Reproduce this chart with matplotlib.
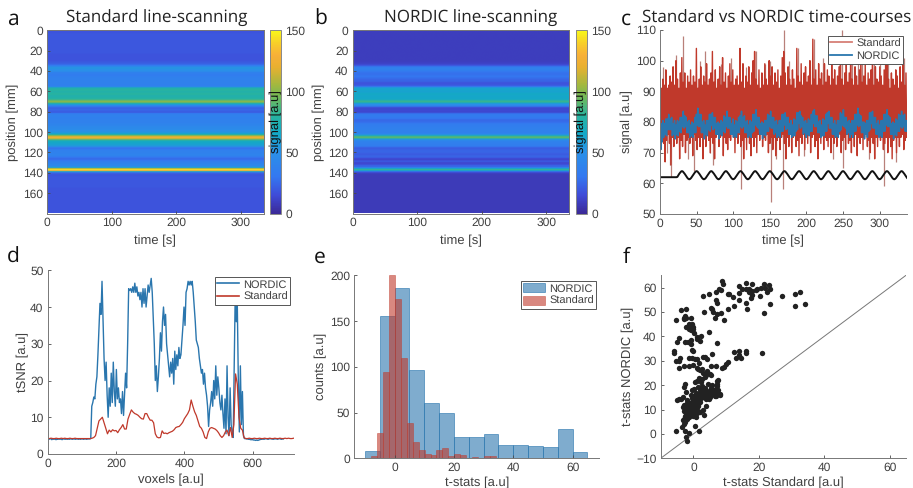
import numpy as np
import matplotlib
matplotlib.use("Agg")
import matplotlib.pyplot as plt
from matplotlib.colors import LinearSegmentedColormap

W, H = 913, 488

# Profiles of the two heatmaps, one value per mm
standard_profile = [
    18, 18, 18, 18, 19, 19, 19, 19, 19, 19,
    19, 19, 19, 19, 19, 19, 19, 19, 19, 19,
    19, 19, 19, 19, 18, 18, 18, 18, 18, 18,
    18, 19, 20, 22, 25, 32, 42, 52, 53, 50,
    50, 46, 38, 36, 35, 35, 36, 37, 38, 38,
    38, 38, 38, 38, 37, 38, 45, 72, 78, 80,
    78, 76, 78, 80, 78, 76, 76, 78, 80, 88,
    100, 100, 80, 62, 48, 36, 26, 22, 25, 24,
    22, 20, 32, 36, 38, 38, 37, 37, 38, 38,
    38, 38, 40, 40, 42, 44, 45, 46, 48, 50,
    52, 56, 64, 82, 105, 122, 124, 108, 84, 70,
    66, 64, 62, 60, 55, 42, 28, 30, 38, 38,
    38, 38, 40, 40, 36, 30, 26, 26, 30, 36,
    38, 40, 42, 44, 48, 62, 112, 145, 128, 62,
    28, 20, 18, 18, 19, 19, 19, 19, 19, 19,
    19, 19, 19, 19, 19, 18, 18, 18, 18, 18,
    18, 18, 18, 18, 18, 18, 18, 18, 18, 18,
    18, 18, 18, 18, 18, 18, 18, 18, 18, 18,
]
nordic_profile = [
    9, 9, 9, 9, 9, 9, 9, 9, 9, 9,
    9, 9, 9, 9, 9, 9, 9, 9, 9, 9,
    9, 9, 9, 9, 9, 9, 9, 9, 9, 9,
    9, 9, 10, 11, 13, 18, 28, 36, 38, 38,
    36, 32, 29, 28, 28, 29, 30, 28, 26, 24,
    24, 22, 18, 18, 19, 22, 35, 60, 62, 64,
    62, 62, 64, 66, 66, 64, 64, 66, 64, 72,
    84, 82, 62, 50, 45, 38, 18, 13, 13, 14,
    13, 14, 26, 32, 33, 33, 32, 30, 26, 25,
    26, 28, 32, 34, 35, 36, 36, 37, 38, 38,
    38, 38, 42, 54, 74, 90, 90, 62, 46, 40,
    38, 36, 36, 35, 34, 26, 20, 22, 24, 24,
    24, 22, 20, 22, 24, 22, 15, 12, 16, 20,
    14, 13, 16, 24, 24, 38, 64, 84, 62, 26,
    14, 9, 8, 8, 8, 8, 8, 8, 8, 8,
    8, 8, 8, 8, 8, 8, 8, 8, 8, 8,
    8, 8, 8, 8, 8, 8, 8, 8, 8, 8,
    8, 8, 8, 8, 8, 8, 8, 8, 8, 8,
]

# Time courses, upper and lower swing every 2 s
standard_hi = [
    96, 91, 94, 92, 97, 91, 92, 95, 93, 98,
    92, 100, 94, 91, 96, 101, 93, 96, 91, 95,
    93, 97, 92, 95, 93, 104, 91, 94, 98, 92,
    95, 93, 99, 92, 94, 96, 103, 93, 97, 91,
    94, 98, 92, 101, 93, 96, 91, 95, 99, 93,
    97, 92, 94, 95, 92, 104, 93, 99, 91, 95,
    93, 98, 92, 96, 100, 103, 94, 92, 97, 91,
    96, 92, 99, 94, 92, 100, 95, 98, 92, 96,
    93, 97, 91, 95, 101, 103, 96, 92, 98, 94,
    92, 97, 94, 91, 104, 95, 93, 99, 92, 96,
    98, 93, 95, 100, 92, 107, 94, 97, 92, 99,
    94, 96, 92, 99, 93, 97, 95, 92, 100, 94,
    97, 92, 95, 98, 100, 94, 92, 96, 99, 93,
    96, 103, 94, 92, 98, 95, 92, 97, 103, 93,
    95, 99, 92, 96, 94, 97, 104, 92, 98, 94,
    93, 98, 95, 92, 97, 99, 102, 94, 91, 96,
    94, 92, 97, 95, 91, 98, 93, 101, 92, 96,
]
standard_lo = [
    71, 75, 73, 67, 74, 76, 73, 66, 75, 72,
    76, 73, 75, 68, 74, 72, 76, 70, 74, 75,
    73, 75, 69, 76, 74, 71, 75, 72, 75, 68,
    75, 72, 76, 74, 70, 75, 73, 68, 75, 76,
    72, 75, 76, 69, 75, 73, 71, 75, 74, 76,
    75, 70, 75, 73, 76, 72, 74, 68, 75, 71,
    76, 73, 69, 75, 72, 75, 70, 76, 74, 76,
    72, 75, 74, 76, 70, 73, 75, 71, 75, 69,
    74, 75, 71, 75, 76, 73, 68, 75, 72, 76,
    70, 75, 76, 72, 74, 69, 75, 73, 76, 71,
    75, 73, 76, 70, 75, 76, 72, 74, 68, 75,
    73, 76, 71, 75, 74, 72, 75, 70, 75, 73,
    76, 72, 75, 76, 70, 74, 75, 71, 76, 73,
    74, 70, 75, 72, 76, 69, 75, 73, 75, 71,
    75, 76, 72, 74, 70, 75, 73, 68, 75, 72,
    76, 74, 75, 71, 73, 75, 70, 75, 72, 68,
    74, 75, 70, 75, 72, 75, 76, 71, 74, 75,
]
spike_times = [4, 9, 13, 15, 22, 31, 38, 46, 55, 62, 68, 72, 84, 97, 111, 118, 131, 143, 150, 151, 158,
               168, 169, 176, 188, 197, 210, 222, 236, 249, 250, 262, 270, 276, 285, 293, 300, 306, 311,
               322, 333]
spike_tips = [98, 70, 66, 62, 102, 108, 68, 64, 100, 103, 70, 66, 99, 101, 58, 98, 103, 99, 100, 54, 68,
              58, 110, 100, 104, 69, 107, 101, 68, 110, 65, 103, 100, 103, 68, 106, 100, 59, 102, 67, 101]

nordic_hi = [
    81, 79.5, 80.5, 79.5, 81, 81, 82.5, 81, 81.5, 79.5,
    80.5, 79, 80.5, 80, 81.5, 81.5, 83.5, 82, 81.5, 80,
    80.5, 79, 80, 79.5, 81.5, 82.5, 84.5, 82.5, 82.5, 80,
    80.5, 79, 80.5, 80.5, 82.5, 82.5, 83, 81.5, 81.5, 79.5,
    80, 79.5, 80.5, 80, 82, 81.5, 83.5, 81.5, 81.5, 79.5,
    81, 79, 80.5, 80, 81.5, 82, 83.5, 81.5, 82, 80,
    80.5, 79, 80.5, 80, 82.5, 82.5, 84, 81.5, 81.5, 79.5,
    80, 79.5, 80.5, 80.5, 82.5, 82, 83.5, 81.5, 81.5, 80,
    80.5, 79, 80.5, 80.5, 82.5, 82.5, 83, 81.5, 81.5, 79.5,
    80.5, 79, 81, 80.5, 83, 83, 83.5, 82, 81.5, 80,
    80.5, 79.5, 81, 80.5, 82.5, 83.5, 84, 82, 82, 80,
    80.5, 79, 81, 80.5, 82.5, 83, 83.5, 81.5, 81.5, 79.5,
    80.5, 79, 80.5, 80.5, 83, 82.5, 84, 81.5, 81.5, 80,
    80.5, 79.5, 80.5, 80.5, 82.5, 82.5, 84.5, 82.5, 82, 80,
    80, 79.5, 80.5, 80.5, 83, 83, 83.5, 81.5, 81.5, 79.5,
    80.5, 79, 80.5, 80.5, 82.5, 82.5, 84, 82, 81.5, 79.5,
    80, 79.5, 81, 80.5, 82.5, 82, 83.5, 82, 82.5, 80.5,
]
nordic_lo = [
    71, 73.5, 75, 76, 75.5, 77.5, 77.5, 77.5, 75.5, 76,
    74.5, 76, 75.5, 77, 76.5, 78.5, 78, 78.5, 76.5, 76.5,
    75, 75.5, 75, 76.5, 76.5, 79, 78.5, 78.5, 76.5, 76.5,
    74.5, 76, 75.5, 77.5, 77, 79, 77.5, 78, 76, 76,
    74.5, 76, 75.5, 77, 76.5, 78.5, 78, 78, 76, 76,
    75, 75.5, 75, 76.5, 76.5, 78.5, 78, 78.5, 76.5, 76.5,
    75, 75.5, 75, 76.5, 77, 79, 78.5, 78, 76, 76,
    74.5, 76, 75.5, 77, 77, 78.5, 78, 78, 76, 76.5,
    75, 75.5, 75, 77, 77, 79, 77.5, 78, 76, 76,
    75, 75.5, 75.5, 77, 77.5, 79.5, 78, 78.5, 76, 76.5,
    75, 76, 75.5, 77, 77, 79.5, 78.5, 78.5, 76.5, 76.5,
    75, 75.5, 75.5, 77, 77, 79.5, 78, 78, 76, 76,
    75, 75.5, 75, 77, 77.5, 79, 78.5, 78, 76, 76.5,
    75, 76, 75, 77, 77, 79, 78.5, 79, 76.5, 76.5,
    74.5, 76, 75, 77, 77.5, 79.5, 78, 78, 76, 76,
    75, 75.5, 75, 77, 77, 79, 78.5, 78.5, 76, 76,
    74.5, 76, 75.5, 77, 77, 78.5, 78, 78.5, 77, 77,
]
# Stimulus, one value every 1.25 s
stim_start = [62] * 19 + [62.1]
stim_cycle = [62.6, 63.1, 63.5, 63.85, 64, 63.85, 63.5, 63.1, 62.65, 62.2, 61.75, 61.45, 61.3, 61.45, 61.75, 62.2]

# tSNR, NORDIC every 3 voxels, Standard every 5 voxels
tsnr_nordic = [
    4.1, 4.0, 4.1, 4.2, 3.9, 4.1, 4.0, 4.1, 3.9, 4.0,
    4.0, 4.1, 4.0, 4.1, 3.9, 4.1, 4.1, 4.0, 4.1, 4.0,
    4.1, 4.0, 4.1, 4.1, 4.0, 4.1, 4.1, 4.0, 4.1, 4.1,
    4.0, 4.1, 4.0, 4.1, 4.1, 4.0, 4.1, 4.1, 4.0, 4.1,
    4.1, 4.1, 4.2, 13, 14, 15.5, 15, 19, 21, 27,
    34, 41, 38, 47, 36, 26, 20, 25, 16, 10,
    18, 13, 22, 14, 25, 17, 13, 23, 15, 18,
    14, 15, 11, 17, 10.5, 16, 22, 18, 30, 45,
    44.5, 45, 44, 45.5, 44, 46.5, 44, 45.5, 43, 44,
    42, 44, 40, 45, 41, 45, 40, 43, 46, 44,
    46, 47.8, 44, 37, 30, 20, 24, 17, 21, 26,
    33, 28, 36, 40, 35, 38, 30, 27, 24, 21,
    25, 22, 26, 19, 28, 23, 27, 24, 29, 26,
    27, 31, 35, 40, 35, 44, 45, 47, 46, 47,
    46, 47, 44, 40, 36, 31, 30, 29, 26, 24,
    22, 23, 19, 22, 18, 16, 13, 7.5, 12, 14,
    17, 13, 20, 15, 24, 16, 21, 18, 14, 12,
    16, 11, 7, 15, 5.5, 24, 10, 5, 18, 8,
    6, 4.5, 25, 44, 36, 41, 20, 6, 24, 8,
    17, 5, 4.2, 4.2, 4.1, 4.1, 4.0, 4.0, 3.9, 3.9,
    3.9, 3.8, 3.8, 3.7, 3.8, 3.7, 3.8, 3.9, 4.0, 4.0,
    4.1, 4.0, 4.1, 4.2, 4.1, 4.0, 4.1, 4.2, 4.1, 4.1,
    4.0, 4.1, 4.1, 4.2, 4.0, 4.1, 4.2, 4.1, 4.0, 4.1, 4.1,
]
tsnr_standard = [
    4.2, 4.2, 4.3, 4.2, 4.2, 4.3, 4.2, 4.2, 4.3, 4.2,
    4.3, 4.2, 4.2, 4.3, 4.2, 4.2, 4.3, 4.2, 4.2, 4.2,
    4.2, 4.2, 4.2, 4.2, 4.2, 4.2, 4.3, 4.5, 5, 7,
    9, 9.5, 10, 8.5, 7, 5.5, 6.5, 6, 6.6, 6.3,
    6.4, 5.8, 6.6, 7.2, 8, 6.8, 6.8, 9.5, 10.8, 12,
    11.4, 11, 10.8, 10.5, 10, 9.6, 9.5, 11, 11, 10,
    9.2, 9.2, 8.5, 5.5, 4.6, 4.4, 4.5, 6.3, 5.6, 5.7,
    5.5, 5.8, 6, 6.2, 6.6, 7.2, 7.4, 7.5, 8, 8.6,
    9.6, 10.3, 11, 12, 14.7, 13, 11.5, 10.5, 9, 7.5,
    7, 6, 4.5, 4.2, 6, 7, 7.2, 7, 6.8, 6.4,
    5.8, 5, 4.5, 5, 6, 6.5, 5, 7.2, 4.5, 8,
    21.8, 19, 10, 7, 6.5, 4.4, 4.2, 4.2, 4.3, 4.2,
    4.2, 4.3, 4.2, 4.2, 4.3, 4.2, 4.2, 4.3, 4.2, 4.2,
    4.3, 4.2, 4.2, 4.3, 4.2, 4.2, 4.3, 4.2, 4.2, 4.3,
    4.2, 4.3, 4.2, 4.2, 4.3,
]

# Histograms
nordic_edges = [-10, -5, 0, 5, 10, 15, 20, 25, 30, 35, 40, 45, 50, 55, 60]
nordic_counts = [8, 155, 186, 97, 60, 49, 23, 23, 27, 14, 15, 13, 12, 32, 7]
standard_edges = [-7.9, -5.9, -3.9, -1.9, 0.1, 2.1, 4.1, 6.1, 8.1, 10.1, 12.1, 14.1, 16.1,
                  18.1, 20.1, 22.1, 24.1, 26.1, 28.1, 30.1, 32.1]
standard_counts = [3, 28, 94, 200, 174, 110, 39, 18, 9, 5, 4, 9, 11, 2, 5, 4, 0, 1, 0, 2, 2]

# Scatter, t-stats Standard vs NORDIC
tstat_standard = [
    8.8, 9, 16, 18, 14, 21.5, 23, 22, 16, 17, 18, 19, 19.5, 15, 14, 20.5, 22.5, 23.3, 20.7, 17,
    18, 17.5, 14, 16, 16.3, 21.5, 23.5, 27, 31, 32.7, 31, 34, 12.5, 10.7, 11, 10.5, 12.2, 8.5,
    7.8, 7, 7, 7.3, 5.5, 6, 5.7, 4.8, 3, 3.3, 6.5, 7.3, 8.5, 9.3,
    -5.3, -3.9, -2.2, -3, -2.5, -2.2, -2.8, -0.8, -2.4, -1.8, -1, -0.5, -0.2, -1.2, -0.6, 0,
    0.2, -1.4, 1, 1.2, 2, 2.2, -4.5, -4.9, -2.7, -1.7, -0.6, -0.6, 4.8, 7.2, -0.4, -0.2,
    -6, -5.8, -5.2, -4.5, -4, -3, -4.3, -1.5, -0.2, -1.5, -0.5, 0.5, 1, 1.8, 3, 3.5, 4.3, 5.8,
    5.5, 7, 8.8, 9.3, 10, 10.5, 1, 1.5, 2, 2.5, 2.8, 4.3, 5, 5.5,
    12.5, 14, 14, 13, 14.5, 16, 16, 21,
    -5.2, -3.5, -2.5, -2.3, -2, -1.3, 0.5, 1.8, -3, -2.7, -3.2, -2.8, -2, -1.5, -2.5, -2.2, -1.6,
    -1, -0.5, 0, 0.5, 1, 1.5, 2, 3.3, -2.5, -3.3, -3, -2, -1.5, -1, -0.5, 0, 0.3, -1, -0.5, 0,
    0.5, 1, 1.5, 2, -5, -4.5, -3.8, -3.2, -2.2, -3, -2.7, -0.5, 0.2, -0.8, -0.2, 0.5, 1, 1.5, 2,
    2.5, 2.2, 2, 2.5, 3, 3.2, 3.5, 3, 3.8, 4, 4.5, 3.8, 5, 5.2, 5.6, 6, 6.5, 6.3, 6.8, 7, 7.3,
    7.2, 7.2, 7.5, 7.4, 8, 8.2, 5.5, 5.8, 4.5, 2.2, 1, 0.5, 1.7, 2.5, 3.5, 4,
    1.2, 1.8, 2.4, 3, 3.6, 4.2, 1.4, 2.2, 2.8, 3.4, 4, 4.8, 0.8, 1.6, 2.6, 3.2, 5.5, 6, 6.8, 7.6,
    -2.4, -1.8, -1.2, -0.6, 0.2, 0.8, 1.4, -2.8, -2, -1.4, -0.8, 0, 0.6, 1.2, -1.6, -0.4, 0.4, 2.8,
]
tstat_nordic = [
    62.5, 61.5, 62, 61.3, 60.7, 61.5, 61, 60, 59.5, 59.3, 58.7, 59, 59.2, 59.2, 57.8, 56.5, 58, 59.3, 59.7, 58,
    57, 55.5, 55, 53.8, 51.3, 49.7, 53.2, 56.6, 57.5, 58.2, 52.6, 53.2, 52.5, 51, 57.2, 57.3, 56.3, 59,
    59.5, 58, 55, 53.7, 51.5, 50, 51.3, 57.3, 56.5, 49.8, 47.7, 49.2, 49.4, 46.7,
    46.7, 50.8, 51.2, 47.5, 48.5, 47.5, 47, 47.7, 43.7, 44, 44.5, 45, 44, 43, 42.5, 43,
    41.5, 45, 39.8, 38.8, 38, 40, 39.5, 37.7, 37.5, 37.8, 38.3, 37, 41.8, 37.2, 34.5, 33.8,
    34, 33, 29.8, 30, 31, 28, 27, 28, 28.2, 31, 31, 30.6, 30.5, 29, 31.6, 31.4, 30.5, 32.6,
    28, 28, 27, 27.5, 28.5, 29.5, 27, 26.5, 26, 26.5, 25, 25.8, 24.5, 24,
    33.5, 34, 32.3, 31, 31, 33.3, 34, 33.3,
    1, 3, 1.3, -1.3, -3, 0.3, 3.3, 1, 4, 5, 5.5, 6.2, 6, 7, 7.5, 8.5, 9,
    8.5, 8, 7.5, 8, 8.5, 9.5, 9, 7.6, 11, 11.2, 12, 12.5, 11.5, 10.5, 11, 10, 12, 12.5, 13, 13.5,
    13, 11, 12, 13, 14, 14.2, 14.3, 15, 17.3, 19.2, 20.5, 18, 18.3, 16, 15.5, 15.5, 16, 15, 15,
    16, 17, 18, 19, 18, 17, 16, 15, 14.5, 15, 15.5, 11.3, 15, 16.7, 17.5, 16.5, 15.5, 18, 17, 18.5, 19.5,
    20.5, 21.5, 22, 16.5, 16.3, 15.8, 19, 20, 20.5, 21.3, 21.5, 21.3, 23, 22.5, 23.5, 24,
    14.2, 16.5, 17.8, 16.2, 18.8, 17.5, 19.2, 14.8, 17.2, 15.2, 16, 14.4, 16.8, 14.6, 19.8, 15.4, 18.2, 17.2, 15.6, 18,
    10, 9, 10.5, 8, 9.8, 7, 11.5, 9.2, 13.8, 7.2, 12, 13.2, 9, 14, 11.8, 14.8, 7.5, 10,
]

BLUE = "#2a76ae"
RED = "#c0392b"
GREY = "#4a4a4a"
TICK_FONT = "Liberation Sans"

parula_like = LinearSegmentedColormap.from_list("parula_like", [
    (0 / 150, "#3b2a98"), (15 / 150, "#3f4cd8"), (30 / 150, "#3478f0"), (50 / 150, "#2a90e8"),
    (65 / 150, "#14a8c8"), (80 / 150, "#28b3a0"), (95 / 150, "#70b85a"), (105 / 150, "#a0b840"),
    (120 / 150, "#e8b030"), (130 / 150, "#f8b038"), (140 / 150, "#f8d028"), (150 / 150, "#f8f81a"),
])

plt.rcParams["font.family"] = TICK_FONT
plt.rcParams["text.hinting"] = "no_hinting"
plt.rcParams["text.hinting_factor"] = 1
fig = plt.figure(figsize=(W / 100, H / 100), dpi=100)


def px_axes(left, top, right, bottom):
    return fig.add_axes([left / W, 1 - bottom / H, (right - left) / W, (bottom - top) / H])


def style(ax, box=False):
    ax.tick_params(direction="in", length=2.5, width=0.6, color=GREY, labelcolor="#404040",
                   labelsize=8.4, pad=3)
    for side in ["left", "bottom", "top", "right"]:
        ax.spines[side].set_color("#777777")
        ax.spines[side].set_linewidth(0.7)
    if not box:
        ax.spines["top"].set_visible(False)
        ax.spines["right"].set_visible(False)


def labels(ax, xlabel, ylabel, xpad=2, ypad=2):
    ax.set_xlabel(xlabel, fontsize=9, color="#404040", labelpad=xpad)
    ax.set_ylabel(ylabel, fontsize=9, color="#404040", labelpad=ypad)


def heatmap(rect, crect, profile, title, title_x):
    ax = px_axes(*rect)
    data = np.tile(np.array(profile, dtype=float)[:, None], (1, 4))
    im = ax.imshow(data, cmap=parula_like, vmin=0, vmax=150, aspect="auto",
                   extent=[0, 335, 180, 0], interpolation="gaussian")
    style(ax, box=True)
    ax.set_xticks([0, 100, 200, 300])
    ax.set_yticks(range(0, 161, 20))
    labels(ax, "time [s]", "position [mm]", xpad=4, ypad=2.5)
    fig.text(title_x / W, 1 - 23 / H, title, fontsize=11.9, family="Open Sans", color="#222222", ha="center")
    cax = px_axes(*crect)
    cb = fig.colorbar(im, cax=cax)
    cb.set_ticks([0, 50, 100, 150])
    cb.ax.tick_params(length=0, labelsize=8.4, labelcolor="#404040", pad=3)
    cb.outline.set_edgecolor("#888888")
    cb.outline.set_linewidth(0.7)
    cax.text(0.5, 0.5, "signal [a.u]", rotation=90, transform=cax.transAxes, ha="center", va="center",
             fontsize=9.6, color="#111111")


heatmap((47, 30.3, 263.5, 213.5), (270, 30.3, 281, 213.5), standard_profile, "Standard line-scanning", 157)
heatmap((352.7, 30.3, 569, 213.5), (575.5, 30.3, 587, 213.5), nordic_profile, "NORDIC line-scanning", 471)

# c: time courses
ax = px_axes(660, 30, 906.7, 214)
std = np.column_stack([standard_hi, standard_lo]).ravel()
nor = np.column_stack([nordic_hi, nordic_lo]).ravel()
t_std = np.linspace(0, 337, len(std))
t_nor = np.linspace(0, 337, len(nor))
stim = np.array(stim_start + stim_cycle * 16 + stim_cycle[:4])
t_stim = np.arange(len(stim)) * 1.25
ax.vlines(spike_times, 85, spike_tips, color="#b9807a", linewidth=0.9)
ax.plot(t_std, std, color=RED, linewidth=1.0)
ax.plot(t_nor, nor, color=BLUE, linewidth=1.1)
ax.plot(t_stim, stim, color="#111111", linewidth=1.4)
ax.set_xlim(0, 337)
ax.set_ylim(50, 110)
ax.set_xticks(range(0, 301, 50))
ax.set_yticks(range(50, 111, 10))
style(ax)
labels(ax, "time [s]", "signal [a.u]", xpad=4, ypad=2)
fig.text(777 / W, 1 - 23 / H, "Standard vs NORDIC time-courses", fontsize=11.9, family="Open Sans",
         color="#222222", ha="center")


def legend(handles, names, left, top):
    leg = fig.legend(handles, names, loc="upper left", bbox_to_anchor=(left / W, 1 - top / H),
                     bbox_transform=fig.transFigure, borderaxespad=0, fontsize=8, fancybox=False,
                     framealpha=1, edgecolor="#555555", handlelength=2.0, handleheight=0.9,
                     handletextpad=0.35, labelspacing=0.15, borderpad=0.2, labelcolor="#404040")
    leg.get_frame().set_linewidth(0.7)
    return leg


h1, = ax.plot([], [], color="#d77f76", linewidth=1.3)
h2, = ax.plot([], [], color=BLUE, linewidth=1.3)
legend([h1, h2], ["Standard", "NORDIC"], 828, 36)

# d: tSNR
ax = px_axes(47.7, 270.3, 294, 454)
x_nor = np.arange(len(tsnr_nordic)) * 3
x_std = np.arange(len(tsnr_standard)) * 5
ax.plot(x_nor, tsnr_nordic, color=BLUE, linewidth=1.0)
ax.plot(x_std, tsnr_standard, color=RED, linewidth=0.9)
ax.set_xlim(0, 721)
ax.set_ylim(0, 50)
ax.set_xticks([0, 200, 400, 600])
ax.set_yticks(range(0, 51, 10))
style(ax)
labels(ax, "voxels [a.u]", "tSNR [a.u]", xpad=3.5, ypad=1)
h1, = ax.plot([], [], color=BLUE, linewidth=1.2)
h2, = ax.plot([], [], color=RED, linewidth=1.2)
legend([h1, h2], ["NORDIC", "Standard"], 215, 277)

# e: histograms
ax = px_axes(354.3, 275.3, 599.3, 458.3)
bars_n = ax.bar(nordic_edges, nordic_counts, width=5, align="edge", color=BLUE, alpha=0.6,
                edgecolor=BLUE, linewidth=0.7)
bars_s = ax.bar(standard_edges, standard_counts, width=2, align="edge", color=RED, alpha=0.6,
                edgecolor=RED, linewidth=0.5)
ax.set_xlim(-13.6, 69)
ax.set_ylim(0, 200)
ax.set_xticks([0, 20, 40, 60])
ax.set_yticks(range(0, 201, 50))
style(ax)
labels(ax, "t-stats [a.u]", "counts [a.u]", xpad=2.5, ypad=2)
legend([bars_n, bars_s], ["NORDIC", "Standard"], 521, 281)

# f: scatter
ax = px_axes(660.7, 275.3, 906, 458.3)
ax.plot([-10, 65], [-10, 65], color="#777777", linewidth=0.7)
ax.scatter(tstat_standard, tstat_nordic, s=15, color="#222222", linewidths=0, zorder=3)
ax.set_xlim(-10, 65)
ax.set_ylim(-10, 65)
ax.set_xticks([0, 20, 40, 60])
ax.set_yticks(range(-10, 61, 10))
style(ax)
labels(ax, "t-stats Standard [a.u]", "t-stats NORDIC [a.u]", xpad=2.5, ypad=1.5)

# panel letters
for letter, x, y in [("a", 7, 25), ("b", 314, 25), ("c", 621, 25), ("d", 7, 263), ("e", 314, 263), ("f", 623, 263)]:
    fig.text(x / W, 1 - y / H, letter, fontsize=15, family="Open Sans", color="#111111")

fig.savefig("out.png", dpi=100)
